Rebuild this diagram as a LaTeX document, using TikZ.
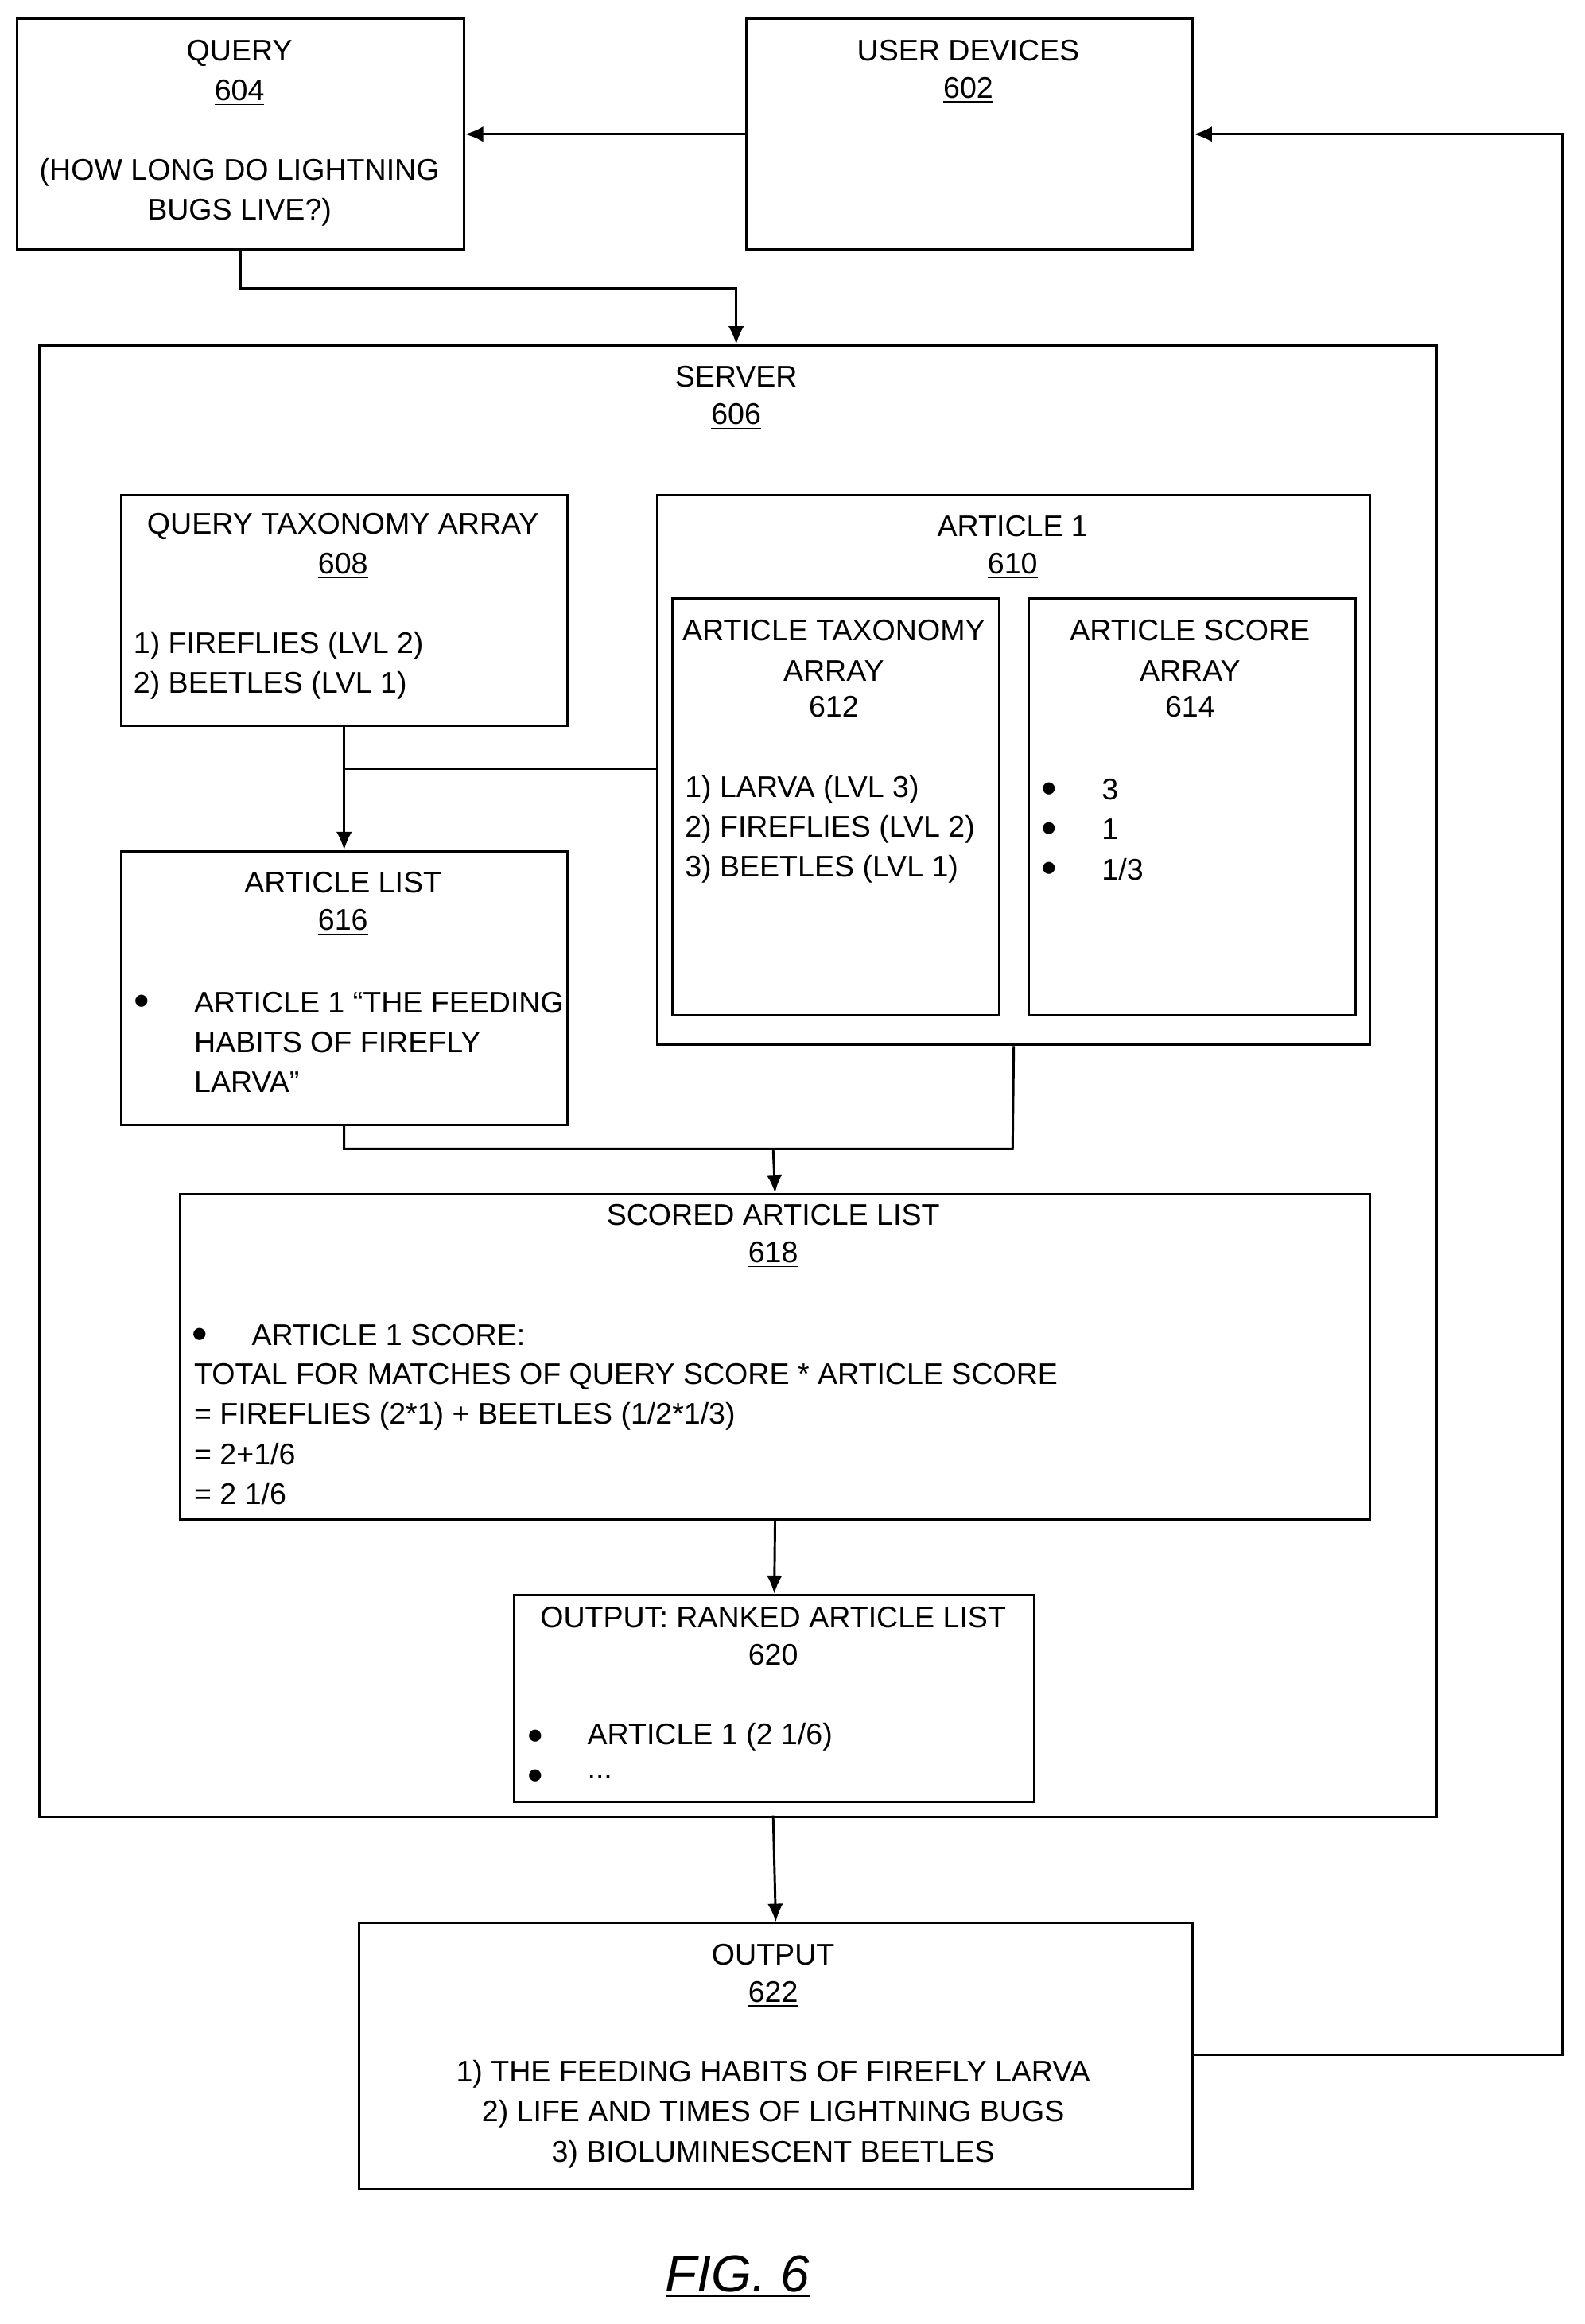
\documentclass[tikz,border=0pt]{standalone}
\usepackage{fontspec}
\setmainfont{Liberation Sans}
\usetikzlibrary{arrows.meta}

\tikzset{
  box/.style 2 args={draw, line width=0.9pt, anchor=north west, inner sep=0pt,
    minimum width={#1*0.02cm}, minimum height={#2*0.02cm}},
  txt/.style={font=\fontsize{11.5}{15.4}\selectfont, inner sep=0pt},
  lft/.style={txt, anchor=west, align=left},
  conn/.style={line width=0.9pt},
  arr/.style={conn, -{Latex[length=7pt,width=6pt]}}
}

\begin{document}
\begin{tikzpicture}[x=0.02cm, y=-0.02cm]
  \useasboundingbox (0,0) rectangle (1072,1572);

  % Boxes
  \node[box={302}{156}] (query) at (11,12) {};
  \node[box={302}{156}] (devices) at (504,12) {};
  \node[box={945}{995}] (server) at (26,233) {};
  \node[box={302}{156}] (qta) at (81,334) {};
  \node[box={482}{372}] (article) at (444,334) {};
  \node[box={221}{282}] (ata) at (454,404) {};
  \node[box={221}{282}] (asa) at (695,404) {};
  \node[box={302}{185}] (artlist) at (81,575) {};
  \node[box={805}{220}] (scored) at (121,807) {};
  \node[box={352}{140}] (ranked) at (347,1078) {};
  \node[box={564}{180}] (output) at (242,1300) {};

  % Texts
  \node[txt] at (162,36) {QUERY};
  \node[txt] at (162,63) {\underline{604}};
  \node[txt, align=center] at (162,130) {(HOW LONG DO LIGHTNING\\BUGS LIVE?)};
  \node[txt] at (655,34) {USER DEVICES};
  \node[txt] at (655,61) {\underline{602}};
  \node[txt] at (498,255) {SERVER};
  \node[txt] at (498,282) {\underline{606}};
  \node[txt] at (232,356) {QUERY TAXONOMY ARRAY};
  \node[txt] at (232,383) {\underline{608}};
  \node[lft] at (90,450) {1) FIREFLIES (LVL 2)\\2) BEETLES (LVL 1)};
  \node[txt] at (685,356) {ARTICLE 1};
  \node[txt] at (685,383) {\underline{610}};
  \node[txt, align=center] at (564,440) {ARTICLE TAXONOMY\\ARRAY};
  \node[txt] at (564,480) {\underline{612}};
  \node[lft] at (463,561) {1) LARVA (LVL 3)\\2) FIREFLIES (LVL 2)\\3) BEETLES (LVL 1)};
  \node[txt, align=center] at (805,440) {ARTICLE SCORE\\ARRAY};
  \node[txt] at (805,480) {\underline{614}};
  \foreach \y/\v in {534/3, 561/1, 588/1\slash 3} {
    \node[txt] at (710,\y) {$\bullet$};
    \node[lft] at (745,\y) {\v};
  }
  \node[txt] at (232,597) {ARTICLE LIST};
  \node[txt] at (232,624) {\underline{616}};
  \node[txt] at (96,678) {$\bullet$};
  \node[lft] at (131,705) {ARTICLE 1 “THE FEEDING\\HABITS OF FIREFLY\\LARVA”};
  \node[txt] at (523,822) {SCORED ARTICLE LIST};
  \node[txt] at (523,849) {\underline{618}};
  \node[txt] at (135,903) {$\bullet$};
  \node[lft] at (170,903) {ARTICLE 1 SCORE:};
  \node[lft] at (131,970) {TOTAL FOR MATCHES OF QUERY SCORE * ARTICLE SCORE\\= FIREFLIES (2*1) + BEETLES (1/2*1/3)\\= 2+1/6\\= 2 1/6};
  \node[txt] at (523,1094) {OUTPUT: RANKED ARTICLE LIST};
  \node[txt] at (523,1121) {\underline{620}};
  \node[txt] at (362,1175) {$\bullet$};
  \node[txt] at (362,1202) {$\bullet$};
  \node[lft] at (397,1175) {ARTICLE 1 (2 1/6)};
  \node[lft] at (397,1202) {...};
  \node[txt] at (523,1322) {OUTPUT};
  \node[txt] at (523,1349) {\underline{622}};
  \node[txt, align=center] at (523,1430) {1) THE FEEDING HABITS OF FIREFLY LARVA\\2) LIFE AND TIMES OF LIGHTNING BUGS\\3) BIOLUMINESCENT BEETLES};
  \node[txt, font=\fontsize{20}{24}\selectfont\itshape] (fig) at (499,1540) {\underline{FIG. 6}};

  % Connectors
  \draw[arr] (devices.west) -- (query.east);
  \draw[arr] (query.south) |- (498,195) -- (498,233);
  \draw[arr] (qta.south) -- (artlist.north);
  \draw[conn] (232,520) -- (article.west |- 0,520);
  \draw[conn] (artlist.south) |- (685,777) -- (article.south);
  \draw[arr] (523,777) -- (scored.north);
  \draw[arr] (scored.south) -- (ranked.north);
  \draw[arr] (523,1228) -- (output.north);
  \draw[arr] (output.east |- 0,1390) -- (1057,1390) |- (devices.east);
\end{tikzpicture}
\end{document}
